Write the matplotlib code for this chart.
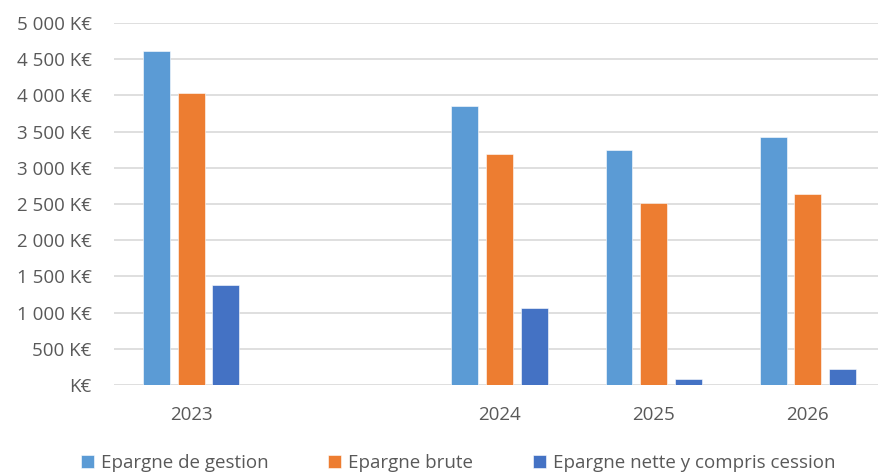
import numpy as np
import matplotlib.pyplot as plt
from matplotlib.ticker import FuncFormatter

# Savings indicators per year (K€); the blank slot keeps the gap after 2023
years = ['2023', '', '2024', '2025', '2026']
epargne_gestion = [4615, np.nan, 3855, 3245, 3430]
epargne_brute = [4035, np.nan, 3195, 2510, 2640]
epargne_nette = [1378, np.nan, 1060, 85, 215]

series = [
    ('Epargne de gestion', epargne_gestion, '#5B9BD5'),
    ('Epargne brute', epargne_brute, '#ED7D31'),
    ('Epargne nette y compris cession', epargne_nette, '#4472C4'),
]

plt.rcParams['font.family'] = ['Open Sans', 'DejaVu Sans']
text_color = '#595959'

fig = plt.figure(figsize=(8.79, 4.75), dpi=100)
# plot area runs slightly past the right edge of the figure
ax = fig.add_axes([114 / 879, 1 - 385 / 475, 771 / 879, (385 - 23) / 475])

x = np.arange(len(years))
width = 0.175
step = 0.225
for i, (name, vals, color) in enumerate(series):
    ax.bar(x + (i - 1) * step, vals, width, color=color, label=name,
           edgecolor='white', linewidth=0.4, zorder=3)

ax.set_xlim(-0.5, len(years) - 0.5)
ax.set_ylim(0, 5000)
ax.set_yticks(np.arange(0, 5001, 500))

def k_euro(v, pos):
    if v == 0:
        return 'K€'
    return f'{int(v):,} K€'.replace(',', ' ')

ax.yaxis.set_major_formatter(FuncFormatter(k_euro))
ax.set_xticks(x)
ax.set_xticklabels(years)

ax.grid(axis='y', color='#d9d9d9', linewidth=1.2, zorder=0)
for s in ax.spines.values():
    s.set_visible(False)
ax.tick_params(axis='both', length=0, colors=text_color, labelsize=13.5)
ax.tick_params(axis='y', pad=16)
ax.tick_params(axis='x', pad=15)

leg = fig.legend(loc='lower center', bbox_to_anchor=(0.521, -0.03), ncol=3,
                 frameon=False, fontsize=13.5, handlelength=0.7,
                 handleheight=0.7, handletextpad=0.35, columnspacing=3.2)
for t in leg.get_texts():
    t.set_color(text_color)

fig.savefig('out.png', dpi=100)
